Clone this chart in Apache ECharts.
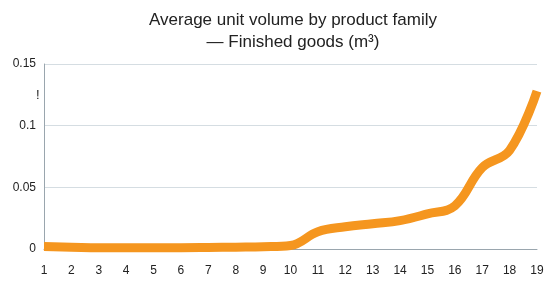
<!DOCTYPE html>
<html>
<head>
<meta charset="utf-8">
<script src="https://cdn.jsdelivr.net/npm/echarts@6/dist/echarts.min.js"></script>
<style>
  html, body { margin: 0; padding: 0; background: #fff; }
  #mChart { width: 555px; height: 283px; }
</style>
</head>
<body>
<div id="mChart"></div>
<script>
  // categories and values
  var categories = ['1','2','3','4','5','6','7','8','9','10','11','12','13','14','15','16','17','18','19'];
  var volumes = [0.002, 0.0015, 0.001, 0.001, 0.001, 0.001, 0.0012, 0.0015, 0.0018, 0.0028, 0.014, 0.018, 0.0205, 0.023, 0.0285, 0.035, 0.066, 0.080, 0.128];
  var yTicks = [0, 0.05, 0.1, 0.15];

  var myChart = echarts.init(document.getElementById('mChart'));
  myChart.setOption({
    animation: false,
    title: {
      text: 'Average unit volume by product family\n\u2014 Finished goods (m\u00b3)',
      left: 288,
      top: 4,
      textAlign: 'center',
      textStyle: {
        fontFamily: 'Liberation Sans',
        fontWeight: 'normal',
        fontSize: 17,
        lineHeight: 22,
        color: '#222'
      }
    },
    grid: { left: 44, right: 18, top: 64, bottom: 34 },
    xAxis: {
      type: 'category',
      boundaryGap: false,
      data: categories,
      axisLine: { lineStyle: { color: '#9aa6ae' } },
      axisTick: { show: false },
      axisLabel: { color: '#222', fontSize: 12, margin: 16, fontFamily: 'Liberation Sans' }
    },
    yAxis: {
      type: 'value',
      min: yTicks[0],
      max: yTicks[yTicks.length - 1],
      interval: 0.05,
      axisLine: { show: true, lineStyle: { color: '#9aa6ae' } },
      axisTick: { show: false },
      splitLine: { lineStyle: { color: '#d5dde2' } },
      axisLabel: { color: '#222', fontSize: 12, margin: 8, fontFamily: 'Liberation Sans' }
    },
    graphic: [{
      type: 'text', left: 36, top: 89,
      style: { text: '!', fontSize: 13, fill: '#222', fontFamily: 'Liberation Sans' }
    }],
    series: [{
      name: 'volume',
      type: 'line',
      smooth: 0.4,
      symbol: 'none',
      data: volumes,
      lineStyle: { color: '#f5961f', width: 9, cap: 'butt' }
    }]
  });
</script>
</body>
</html>
